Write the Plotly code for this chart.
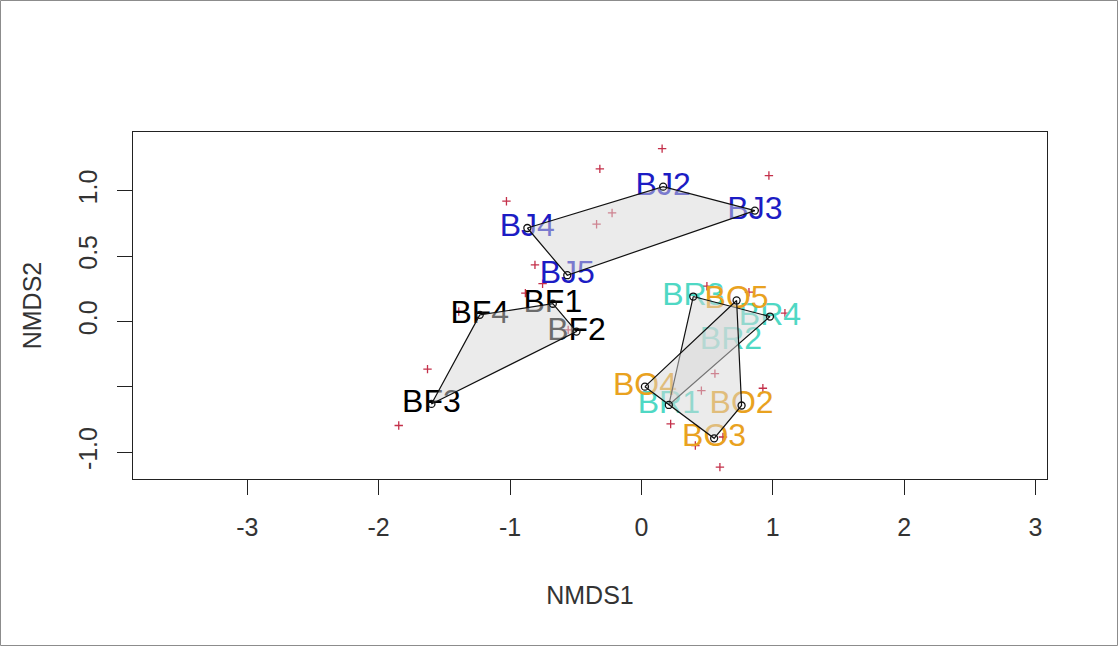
import plotly.graph_objects as go

# NMDS site scores
site_names = ["BJ2", "BJ3", "BJ4", "BJ5",
              "BF1", "BF2", "BF3", "BF4",
              "BR1", "BR2", "BR3", "BR4",
              "BO2", "BO3", "BO4", "BO5"]
site_x = [0.166, 0.864, -0.868, -0.564,
          -0.674, -0.494, -1.598, -1.230,
          0.209, 0.682, 0.395, 0.979,
          0.763, 0.554, 0.027, 0.725]
site_y = [1.031, 0.848, 0.715, 0.354,
          0.136, -0.077, -0.630, 0.051,
          -0.638, -0.148, 0.191, 0.038,
          -0.642, -0.893, -0.498, 0.161]
site_group = ["BJ"] * 4 + ["BF"] * 4 + ["BR"] * 4 + ["BO"] * 4

# NMDS species scores
species_x = [0.158, -0.316, 0.971, -1.027, -0.223, -0.341, -0.810, -0.752,
             -0.883, -1.390, -1.628, -1.847, -0.557, 0.499, 0.819, 1.093,
             0.560, 0.457, 0.925, 0.223, 0.411, 0.598, 0.621]
species_y = [1.322, 1.167, 1.116, 0.920, 0.830, 0.744, 0.433, 0.289,
             0.217, 0.077, -0.364, -0.795, -0.064, 0.270, 0.224, 0.064,
             -0.398, -0.528, -0.510, -0.783, -0.948, -1.113, -0.883]

# convex hull vertices of each group, in drawing order
hull_groups = ["BJ", "BF", "BR", "BO"]
hull_vertices = {
    "BJ": ["BJ4", "BJ2", "BJ3", "BJ5"],
    "BF": ["BF4", "BF1", "BF2", "BF3"],
    "BR": ["BR3", "BR4", "BR1"],
    "BO": ["BO4", "BO5", "BO2", "BO3"],
}

group_colors = {"BJ": "#1c1cc4", "BF": "#000000", "BR": "#4fd8c4", "BO": "#e9a21f"}

x_ticks = [-3, -2, -1, 0, 1, 2, 3]
y_ticks = [-1.0, -0.5, 0.0, 0.5, 1.0]
y_tick_text = ["-1.0", "", "0.0", "0.5", "1.0"]

FONT = "Liberation Sans, Arial, sans-serif"

fig = go.Figure()

# species as small red crosses
fig.add_trace(go.Scatter(
    x=species_x, y=species_y, mode="markers",
    marker=dict(symbol="cross-thin", size=6, color="#c4304a",
                line=dict(width=1.3, color="#c4304a")),
    hoverinfo="skip", showlegend=False,
))

# site labels coloured by group
fig.add_trace(go.Scatter(
    x=site_x, y=site_y, mode="text", text=site_names,
    textposition="middle center",
    textfont=dict(family=FONT, size=32,
                  color=[group_colors[g] for g in site_group]),
    hoverinfo="skip", showlegend=False,
))

# translucent hulls drawn over the labels
idx = {n: i for i, n in enumerate(site_names)}
vx_all, vy_all = [], []
for g in hull_groups:
    names = hull_vertices[g] + [hull_vertices[g][0]]
    hx = [site_x[idx[n]] for n in names]
    hy = [site_y[idx[n]] for n in names]
    fig.add_trace(go.Scatter(
        x=hx, y=hy, mode="lines", fill="toself",
        fillcolor="rgba(215,215,215,0.5)",
        line=dict(color="#111111", width=1.2),
        hoverinfo="skip", showlegend=False,
    ))
    vx_all += hx[:-1]
    vy_all += hy[:-1]

# open circles on the hull vertices
fig.add_trace(go.Scatter(
    x=vx_all, y=vy_all, mode="markers",
    marker=dict(symbol="circle-open", size=7, color="#111111",
                line=dict(width=1.3, color="#111111")),
    hoverinfo="skip", showlegend=False,
))

W, H = 1118, 646
ml, mr, mt, mb = 133, 71, 132, 167
pw, ph = W - ml - mr, H - mt - mb

fig.update_layout(
    width=W, height=H,
    margin=dict(l=ml, r=mr, t=mt, b=mb),
    paper_bgcolor="white", plot_bgcolor="white",
    font=dict(family=FONT, size=25, color="#333333"),
    showlegend=False,
    shapes=[dict(
        type="rect", xref="paper", yref="paper",
        x0=-(ml - 0.5) / pw, x1=1 + (mr - 0.5) / pw,
        y0=-(mb - 0.5) / ph, y1=1 + (mt - 0.5) / ph,
        line=dict(color="#8c8c8c", width=1), layer="below",
    )],
)

fig.update_xaxes(
    range=[-3.870, 3.088], tickvals=x_ticks,
    ticktext=[str(v) for v in x_ticks],
    showgrid=False, zeroline=False,
    showline=True, mirror=True, linecolor="#222222", linewidth=1.3,
    ticks="outside", ticklen=15, tickwidth=1.3, tickcolor="#222222",
    tickfont=dict(size=25, color="#333333"), ticklabelstandoff=11,
    title=dict(text="NMDS1", font=dict(size=25, color="#333333"), standoff=46),
)
fig.update_yaxes(
    range=[-1.204, 1.449], tickvals=y_ticks, ticktext=y_tick_text,
    showgrid=False, zeroline=False,
    showline=True, mirror=True, linecolor="#222222", linewidth=1.3,
    ticks="outside", ticklen=15, tickwidth=1.3, tickcolor="#222222",
    tickangle=-90,
    tickfont=dict(size=25, color="#333333"), ticklabelstandoff=10,
    title=dict(text="NMDS2", font=dict(size=25, color="#333333"), standoff=25),
)

fig.write_html("out.html")
